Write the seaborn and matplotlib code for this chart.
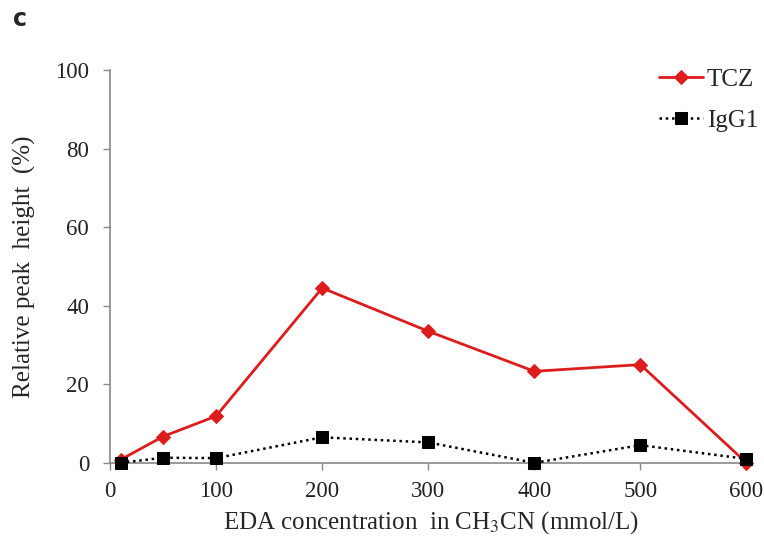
import matplotlib
matplotlib.use("Agg")
import matplotlib.pyplot as plt
import seaborn as sns
import pandas as pd

conc = [10, 50, 100, 200, 300, 400, 500, 600]
tcz = [0.8, 6.7, 11.9, 44.5, 33.5, 23.3, 25.0, 0.0]
igg1 = [0.0, 1.3, 1.2, 6.5, 5.2, 0.0, 4.5, 1.0]
xticks = [0, 100, 200, 300, 400, 500, 600]
yticks = [0, 20, 40, 60, 80, 100]

sns.set_style("ticks")
plt.rcParams['font.family'] = ['Liberation Serif', 'DejaVu Serif']
plt.rcParams['mathtext.fontset'] = 'stix'

df = pd.DataFrame({"conc": conc * 2,
                   "val": tcz + igg1,
                   "series": ["TCZ"] * len(conc) + ["IgG1"] * len(conc)})

fig = plt.figure(figsize=(7.64, 5.51), dpi=100)
ax = fig.add_axes([0.144, 0.160, 0.840, 0.713])

red = "#dd1c1c"
sns.lineplot(data=df[df.series == "TCZ"], x="conc", y="val", ax=ax, color=red,
             marker="D", markersize=7.5, markeredgecolor=red, linewidth=2,
             label="TCZ", clip_on=False, zorder=3)
sns.lineplot(data=df[df.series == "IgG1"], x="conc", y="val", ax=ax, color="black",
             marker="s", markersize=9, markeredgecolor="black", linewidth=1.8,
             linestyle=(0, (1, 1.5)), label="IgG1", clip_on=False, zorder=4)

ax.set_xlim(0, 605)
ax.set_ylim(0, 100)
ax.set_xticks(xticks)
ax.set_yticks(yticks)
ax.tick_params(axis="both", labelsize=16.5, colors="#222222", length=5, width=1)
ax.tick_params(axis="both", color="#888888")
ax.tick_params(axis="y", pad=10)
ax.tick_params(axis="x", pad=8)
for s in ["top", "right"]:
    ax.spines[s].set_visible(False)
for s in ["left", "bottom"]:
    ax.spines[s].set_color("#888888")
    ax.spines[s].set_linewidth(1.2)

ax.set_xlabel("EDA concentration  in CH$_3$CN (mmol/L)", fontsize=18, labelpad=5)
ax.set_ylabel("Relative peak  height  (%)", fontsize=18, labelpad=14)

leg = ax.legend(loc="upper right", bbox_to_anchor=(1.045, 1.062), frameon=False,
                fontsize=18, handlelength=1.75, handletextpad=0.15, labelspacing=0.75)

fig.text(0.017, 0.988, "c", fontsize=17, fontweight="bold",
         family=["DejaVu Sans"], va="top")

fig.savefig("out.png", dpi=100)
